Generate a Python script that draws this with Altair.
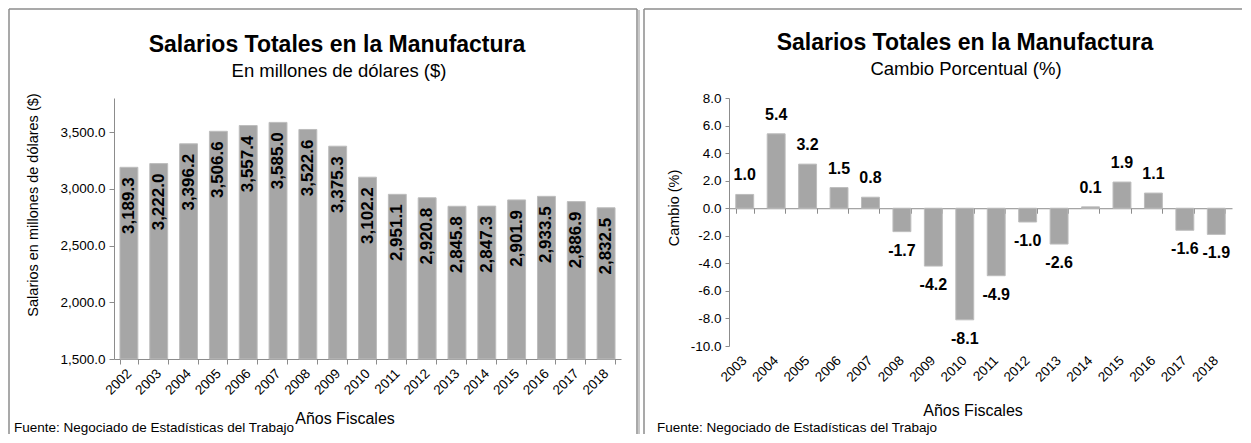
import altair as alt
import pandas as pd

# ---------------- data ----------------
years_total = ["2002", "2003", "2004", "2005", "2006", "2007", "2008", "2009", "2010",
               "2011", "2012", "2013", "2014", "2015", "2016", "2017", "2018"]
salarios = [3189.3, 3222.0, 3396.2, 3506.6, 3557.4, 3585.0, 3522.6, 3375.3, 3102.2,
            2951.1, 2920.8, 2845.8, 2847.3, 2901.9, 2933.5, 2886.9, 2832.5]

years_change = ["2003", "2004", "2005", "2006", "2007", "2008", "2009", "2010",
                "2011", "2012", "2013", "2014", "2015", "2016", "2017", "2018"]
cambio = [1.0, 5.4, 3.2, 1.5, 0.8, -1.7, -4.2, -8.1, -4.9, -1.0, -2.6, 0.1, 1.9, 1.1, -1.6, -1.9]

left_ticks = [1500, 2000, 2500, 3000, 3500]
right_ticks = [-10, -8, -6, -4, -2, 0, 2, 4, 6, 8]

title_text = "Salarios Totales en la Manufactura"
sub_left = "En millones de dólares ($)"
sub_right = "Cambio Porcentual (%)"
ytitle_left = "Salarios en millones de dólares ($)"
ytitle_right = "Cambio  (%)"
xtitle = "Años Fiscales"
source = "Fuente: Negociado de Estadísticas del Trabajo"

# ---------------- style ----------------
FONT = "Liberation Sans, Arial, sans-serif"
BAR = "#a6a6a6"
BAR_EDGE = "#bdbdbd"
FRAME = "#8c8c8c"
AXIS = "#8c8c8c"

one = pd.DataFrame({"k": [0]})


def txt(text, x, y, size, weight="normal", align="center", angle=None, baseline="alphabetic"):
    kw = dict(align=align, baseline=baseline, font=FONT, fontSize=size,
              fontWeight=weight, color="black")
    if angle is not None:
        kw["angle"] = angle
    return alt.Chart(one).mark_text(**kw).encode(
        x=alt.value(x), y=alt.value(y), text=alt.value(text))


def hline(x, x2, y, color=FRAME, w=1.5):
    return alt.Chart(one).mark_rule(color=color, strokeWidth=w).encode(
        x=alt.value(x), x2=alt.value(x2), y=alt.value(y))


def vline(x, y, y2, color=FRAME, w=1.5):
    return alt.Chart(one).mark_rule(color=color, strokeWidth=w).encode(
        x=alt.value(x), y=alt.value(y), y2=alt.value(y2))


# ---------------- left panel ----------------
W1, H1 = 507, 261
df1 = pd.DataFrame({"year": years_total, "value": salarios,
                    "label": [f"{v:,.1f}" for v in salarios]})

x1 = alt.X("year:N", sort=years_total,
           scale=alt.Scale(paddingInner=0.4, paddingOuter=0.2),
           axis=alt.Axis(title=None, labelAngle=315, labelAlign="right", labelBaseline="middle",
                         labelPadding=7, tickBand="extent", tickSize=5, orient="bottom"))
y1 = alt.Y("value:Q", scale=alt.Scale(domain=[1500, 3800], nice=False, zero=False),
           axis=alt.Axis(title=None, values=left_ticks, format=",.1f", grid=False,
                         tickSize=5, labelPadding=4, labelOverlap=False))

bars1 = alt.Chart(df1).mark_bar(color=BAR, stroke=BAR_EDGE, strokeWidth=1).encode(
    x=x1, y=y1, y2=alt.datum(1500))
labels1 = alt.Chart(df1).mark_text(angle=270, align="right", baseline="middle", dx=-10,
                                   font=FONT, fontSize=17, fontWeight="bold", color="black").encode(
    x=alt.X("year:N", sort=years_total), y=y1, text="label:N")

left = alt.layer(
    hline(-105, 523, -89),
    vline(-105, -89, 336),
    vline(523, -89, 336),
    vline(525, -88, 336, color="#c8c8c8", w=2),
    bars1, labels1,
    txt(title_text, 223, -46, 23, weight="bold"),
    txt(sub_left, 225, -21, 18.5),
    txt(ytitle_left, -80, 107, 14.5, angle=270, baseline="middle"),
    txt(xtitle, 231, 326, 16),
    txt(source, -100, 334, 13.5, align="left"),
).properties(width=W1, height=H1)

# ---------------- right panel ----------------
W2, H2 = 503, 248
df2 = pd.DataFrame({"year": years_change, "value": cambio,
                    "label": [f"{v:.1f}" for v in cambio]})
zero_offset = -(H2 * 10 / 18)

x2_labels = alt.X("year:N", sort=years_change,
                  scale=alt.Scale(paddingInner=0.43, paddingOuter=0.215),
                  axis=alt.Axis(title=None, orient="bottom", domain=False, ticks=False,
                                labelAngle=315, labelAlign="right", labelBaseline="middle",
                                labelPadding=12))
x2_zero = alt.X("year:N", sort=years_change,
                axis=alt.Axis(title=None, orient="bottom", labels=False, domain=True,
                              ticks=True, tickBand="extent", tickSize=5, offset=zero_offset))
y2 = alt.Y("value:Q", scale=alt.Scale(domain=[-10, 8], nice=False),
           axis=alt.Axis(title=None, values=right_ticks, grid=False, tickSize=4, labelPadding=4,
                         labelOverlap=False,
                         labelExpr="replace(format(datum.value, '.1f'), '\u2212', '-')"))

bars2 = alt.Chart(df2).mark_bar(color=BAR, stroke=BAR_EDGE, strokeWidth=1).encode(
    x=x2_labels, y=y2)
pos = alt.Chart(df2).transform_filter("datum.value >= 0").mark_text(
    baseline="alphabetic", dy=-14, font=FONT, fontSize=16, fontWeight="bold", color="black").encode(
    x=x2_zero, y=y2, text="label:N")
neg = alt.Chart(df2).transform_filter("datum.value < 0").mark_text(
    baseline="alphabetic", dy=24, font=FONT, fontSize=16, fontWeight="bold", color="black").encode(
    x=alt.X("year:N", sort=years_change, axis=None), y=y2, text="label:N")

right = alt.layer(
    hline(-85, 513, -89),
    vline(-85, -89, 336),
    bars2, pos, neg,
    txt(title_text, 236, -48, 23, weight="bold"),
    txt(sub_right, 237, -23, 18.5),
    txt(ytitle_right, -54, 110, 14.5, angle=270, baseline="middle"),
    txt(xtitle, 244, 318, 16),
    txt(source, -72, 334, 13.5, align="left"),
).properties(width=W2, height=H2).resolve_axis(x="independent")

chart = alt.hconcat(left, right, spacing=3).properties(padding=0).configure_view(
    stroke=None
).configure_axis(
    labelFont=FONT, labelFontSize=13.5, labelColor="black",
    domainColor=AXIS, tickColor=AXIS, domainWidth=1, tickWidth=1,
    labelOverlap=False, labelBound=False, labelFlush=False,
)

chart.save("out.html", embed_options={"renderer": "svg", "actions": False})
